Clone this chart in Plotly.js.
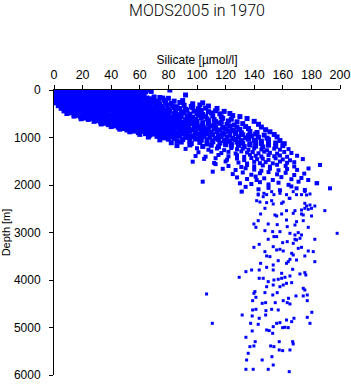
<!DOCTYPE html>
<html>
<head>
<meta charset="utf-8">
<script src="https://cdn.plot.ly/plotly-3.0.1.min.js"></script>
<style>html,body{margin:0;padding:0;background:#fff;}#chart{width:351px;height:384px;}</style>
</head>
<body>
<div id="chart"></div>
<script>
const surfaceObs = [
[0.5,5],[2,0],[4.5,10],[6,3],[8.5,12],[10,0],[12,7],[14.5,2],[16,14],[18,5],[20.5,0],[22,9],[24,4],[26.5,13],[28,0],[30,6],[32.5,11],[34,2],[36,8],[38,0],[40.5,5],[42,12],[44,3],[47,8],[50,0],[53,6],[58,2],[62,10],[81,0],[66,4],
[0,45],[2.5,30],[5,60],[7,40],[9,70],[11.5,35],[13,55],[15.5,42],[18,65],[20,30],[22.5,50],[24,68],[26,38],[28.5,58],[31,45],[33,32],[35.5,62],[37,48],[39.5,36],[42,66],[44,44],[46.5,55],[49,34],[52,60],[55,42],[60,52],[64,38],[68,30],
[0,110],[2,95],[4.5,125],[7,100],[9.5,118],[11,92],[13.5,130],[16,105],[18,88],[20.5,122],[23,98],[25,115],[27.5,90],[30,128],[32,104],[34.5,120],[37,94],[39,112],[41.5,126],[44,100],[46,90],[48.5,118],[51,106],[53,124],[56,96],[59,115],[63,102],[70,147],[92,105],[76,170],[57,85],
[0.5,160],[3,175],[5,150],[7.5,185],[10,165],[12,155],[14.5,190],[17,170],[19,148],[21.5,180],[24,162],[26,192],[28.5,152],[31,172],[33,186],[35.5,158],[38,176],[40,150],[42.5,188],[45,166],[47,180],[49.5,155],[52,172],[55,190],[57,160],[60,178],[62,150],[65,168],[68,185],[74,158],[80,175],
[1,220],[3.5,235],[6,210],[8,245],[10.5,225],[13,205],[15,240],[17.5,215],[20,232],[22,208],[24.5,244],[27,222],[29,236],[31.5,212],[34,228],[36,246],[38.5,218],[41,204],[43,238],[45.5,226],[48,214],[50,242],[52.5,230],[55,208],[57.5,236],[60,220],[62,246],[64.5,212],[67,232],[70,224],[73,240],[77,215],[84,235],[90,222],
[1.5,270],[4,290],[6.5,260],[9,280],[11,298],[13.5,265],[16,285],[18,256],[20.5,292],[23,274],[25,262],[27.5,296],[30,278],[32,258],[34.5,288],[37,268],[39,300],[41.5,276],[44,260],[46,290],[48.5,272],[51,256],[53,294],[55.5,280],[58,264],[60,298],[62.5,270],[65,286],[68,258],[71,278],[74,296],[78,266],[82,284],[88,262],[97,290],[104,270]
];
const thermoclineObs = [
[3,330],[5.5,315],[8,345],[10,322],[12.5,352],[15,312],[17,338],[19.5,326],[22,350],[24,318],[26.5,340],[29,310],[31,332],[33.5,355],[36,320],[38,344],[40.5,314],[43,336],[45,352],[47.5,324],[50,310],[52,346],[54.5,330],[57,316],[59,350],[61.5,338],[64,312],[66.5,328],[69,354],[72,320],[75,342],[79,316],[83,336],[86,352],[91,322],[96,344],[102,314],[108,338],
[5,385],[7,370],[9.5,400],[12,378],[14,408],[16.5,366],[19,392],[21,374],[23.5,404],[26,382],[28,368],[30.5,396],[33,410],[35,376],[37.5,390],[40,366],[42,402],[44.5,384],[47,372],[49,406],[51.5,388],[54,368],[56,398],[58.5,380],[61,410],[63,374],[65.5,394],[68,370],[71,386],[73,408],[76,376],[80,398],[84,368],[88,390],[92,404],[97,372],[101,394],[106,380],[114,388],
[7,440],[9.5,425],[12,455],[14,432],[16.5,462],[19,420],[21,446],[23.5,436],[26,458],[28,424],[30.5,448],[33,430],[35,464],[37.5,438],[40,422],[42,452],[44.5,442],[47,426],[49,460],[51.5,434],[54,450],[56,422],[58.5,444],[61,462],[63,430],[66,452],[69,424],[72,440],[75,458],[78,428],[81,448],[85,436],[89,460],[93,426],[98,446],[103,432],[108,456],[113,438],[119,450],
[9,495],[11.5,480],[14,510],[16,488],[18.5,518],[21,476],[23,500],[25.5,490],[28,514],[30,482],[32.5,506],[35,478],[37,498],[39.5,520],[42,486],[44,504],[46.5,476],[49,494],[51,516],[53.5,484],[56,508],[58,478],[60.5,498],[63,518],[66,488],[69,506],[72,476],[74,496],[77,514],[80,484],[84,500],[88,520],[91,480],[95,508],[100,490],[104,516],[110,482],[116,502],[123,494],
[14,550],[16,535],[18.5,565],[21,542],[23,572],[25.5,530],[28,556],[30,546],[32.5,568],[35,534],[37,560],[39.5,540],[42,574],[44,552],[46.5,532],[49,562],[51,544],[53.5,570],[56,536],[58,558],[60.5,548],[63,530],[65,566],[68,540],[71,556],[74,574],[76,534],[79,552],[82,566],[86,538],[89,560],[93,546],[97,572],[101,532],[106,556],[111,544],[117,566],[125,538],[130,560],
[19,605],[21.5,590],[24,620],[26,598],[28.5,628],[31,586],[33,612],[35.5,602],[38,624],[40,592],[42.5,616],[45,588],[47,608],[49.5,630],[52,596],[54,618],[56.5,586],[59,606],[61,626],[64,594],[67,614],[70,600],[73,628],[76,588],[79,610],[82,622],[85,592],[88,606],[92,630],[95,596],[99,616],[103,588],[107,608],[112,624],[118,596],[124,614],[135,600],
[28,660],[30,645],[32.5,675],[35,652],[37,682],[39.5,640],[42,666],[44,656],[46.5,688],[49,646],[51,672],[53.5,660],[56,684],[58,642],[60.5,668],[63,650],[66,680],[69,644],[71,664],[74,686],[77,652],[80,672],[83,642],[86,660],[89,684],[93,648],[96,670],[100,656],[104,688],[108,644],[113,666],[117,680],[122,652],[128,670],[140,660]
];
const intermediateObs = [
[33,715],[35.5,700],[38,730],[40,708],[42.5,740],[45,696],[47,722],[49.5,712],[52,736],[54,700],[56.5,726],[59,744],[61,710],[64,732],[67,698],[70,718],[72,742],[75,704],[78,728],[81,714],[84,740],[87,700],[90,722],[93,734],[97,706],[100,726],[104,744],[108,712],[112,730],[116,700],[121,720],[126,738],[132,708],[143,722],
[40,770],[42.5,755],[45,786],[47,762],[49.5,796],[52,750],[54,778],[56.5,768],[59,792],[62,756],[65,782],[67,770],[70,798],[73,758],[76,780],[79,764],[82,794],[85,752],[88,776],[91,790],[94,760],[98,784],[101,770],[105,798],[109,756],[113,778],[118,790],[123,762],[128,784],[134,770],[145,780],
[46,825],[49,810],[51,842],[54,818],[56,850],[59,806],[62,832],[64,822],[67,848],[70,812],[73,836],[76,854],[79,816],[82,840],[85,808],[88,830],[91,852],[94,820],[97,838],[101,808],[104,846],[108,826],[112,814],[116,840],[120,822],[125,852],[130,830],[136,812],[148,836],
[53,880],[56,866],[59,898],[62,874],[65,906],[68,862],[71,888],[74,878],[77,902],[80,868],[83,892],[86,910],[89,872],[92,896],[95,864],[99,884],[103,904],[106,870],[110,890],[114,876],[118,908],[122,866],[127,886],[131,900],[137,872],[142,894],[151,880],
[60,935],[64,920],[67,952],[70,928],[74,962],[77,916],[80,944],[83,932],[86,958],[90,922],[93,946],[96,964],[100,926],[103,950],[107,918],[111,940],[115,960],[119,930],[123,948],[127,918],[132,942],[136,962],[141,928],[147,950],[154,936],
[66,990],[72,976],[77,1008],[81,984],[84,1018],[88,972],[92,998],[95,1012],[98,980],[102,1004],[105,974],[109,994],[113,1016],[117,978],[121,1000],[125,1020],[129,984],[134,1006],[138,972],[143,996],[149,1014],[156,988],
[74,1050],[80,1036],[86,1068],[90,1044],[95,1076],[99,1032],[103,1058],[107,1046],[111,1072],[115,1038],[119,1062],[123,1080],[127,1042],[131,1066],[136,1034],[140,1056],[145,1078],[150,1046],[158,1064],
[82,1110],[89,1096],[96,1128],[102,1104],[107,1136],[111,1092],[116,1118],[120,1106],[124,1140],[128,1098],[132,1122],[137,1134],[141,1102],[145,1126],[150,1094],[155,1116],[161,1130],
[86,1170],[95,1156],[104,1188],[110,1164],[115,1196],[120,1152],[124,1178],[129,1166],[133,1192],[137,1158],[141,1182],[146,1198],[150,1162],[155,1186],[160,1172]
];
const transitionObs = [
[92,1240],[100,1226],[108,1258],[114,1232],[119,1266],[124,1222],[128,1248],[132,1236],[136,1262],[140,1228],[145,1252],[149,1270],[154,1234],[158,1256],[164,1244],
[101,1310],[110,1296],[117,1328],[122,1302],[127,1336],[131,1292],[135,1318],[139,1306],[143,1332],[147,1298],[151,1322],[156,1340],[161,1304],[166,1326],
[99,1390],[106,1404],[115,1368],[122,1396],[128,1374],[133,1408],[137,1362],[141,1386],[145,1400],[150,1370],[154,1394],[158,1378],[163,1406],[170,1384],
[105,1450],[113,1436],[121,1468],[128,1442],[133,1476],[138,1432],[142,1458],[146,1446],[150,1472],[155,1438],[160,1462],[165,1480],[174,1454],
[97,1509],[112,1536],[120,1504],[129,1528],[135,1548],[140,1512],[144,1540],[148,1518],[153,1544],[158,1506],[163,1532],[168,1520],
[113,1560],[122,1600],[131,1620],[135,1580],[140,1606],[146,1588],[151,1614],[156,1574],[162,1598],[168,1610],[186,1579],
[118,1660],[127,1684],[134,1648],[140,1676],[145,1700],[151,1656],[157,1690],[163,1664],[170,1682],[178,1652],
[111,1719],[125,1770],[132,1736],[138,1784],[144,1752],[150,1728],[156,1776],[162,1744],[168,1790],[175,1760],
[128,1840],[135,1874],[141,1822],[147,1860],[153,1895],[159,1834],[166,1878],[173,1852],[177.8,1895],[141.7,1895],
[104,1930],[130,1964],[138,1979],[144,1940],[150,1988],[157,1952],[164,1996],[171,1930],[183.6,1964],
[134,2040],[143,2090],[150,2060],[158,2110],[166,2030],[169.6,2070],[175.4,2105],[193,2070],[131.2,2140],[184,1960]
];
const deepObs = [
[131.6,2133],[142.8,2189],[146.8,2175],[148.7,2203],[152.2,2140],[153.8,2203],[158,2175],[162.6,2203],[167.3,2140],[169.6,2203],[173.1,2203],[175.4,2140],[179,2189],[164.5,2280],[141.7,2330],[144,2358],[148.7,2372],[152.2,2330],[153.3,2400],[159.2,2386],[160.3,2358],[175.4,2386],[176.6,2442],[179,2421],[182.4,2442],[147.5,2491],[162.6,2540],[168.5,2540],[173.1,2526],[189.4,2540],[175.4,2491],[177.8,2512],[180.1,2491],
[142.8,2210],[146.3,2246],[165,2280],[176.6,2210],
[144.5,2610],[154.5,2631],[155.7,2652],[159.2,2610],[167.3,2596],[173.1,2610],[174.3,2631],[180.1,2652],[142.8,2751],[162.6,2737],[169.6,2772],[174.3,2751],[139.8,2821],[141.2,2891],[149.8,2821],[156.1,2835],[163.1,2877],[168.5,2842],[177.8,2891],
[152.9,2982],[147.5,2961],[158,2982],[165,3017],[168.5,3052],[170.8,3003],[173.1,3052],[198,3017],[149.8,3143],[153.8,3087],[155.7,3087],[159.9,3214],[163.1,3193],[168.5,3143],[169.6,3157],[172,3122],[182.4,3143],
[143.5,3249],[139.8,3312],[153.3,3298],[167.3,3228],[170.8,3333],[173.1,3312],[147.5,3403],[155.7,3368],[158,3354],[160.3,3389],[177.8,3389],[181.3,3403],[148.7,3494],[151,3508],[166.2,3438],[167.3,3473],[175.4,3494],
[156.8,3593],[163.8,3614],[165,3565],[169.6,3579],[182.4,3614],[144.5,3649],[153.3,3684],[162.6,3649],[153.3,3789],[143.5,3789],[148.7,3733],[138.2,3789],[134.2,3824],[129.5,3943],[159.2,3859],[166.9,3775],[172,3873],[175.4,3845],[176.1,3894],
[143.5,3964],[146.3,3964],[149.8,4035],[153.8,4000],[156.8,3985],[159.2,3964],[161.5,3943],[165,3915],[148.7,4141],[153.3,4105],[158,4141],[160.3,4105],[162.6,4070],[166.2,4056],[174.3,4175]
];
const abyssalObs = [
[106.7,4294],[110.7,4912],[131.6,4737],[134.2,5206],[134.7,5684],[134.2,5880],[135.8,5543],[137,5403],[137.5,4912],[138.6,5073],[138.6,4757],[138.9,4435],[138.9,4631],[139.8,4280],[140.5,4245],[141.2,4364],[139.3,5880],[139.8,5389],[140.7,5298],[141.2,4617],[142.8,4933],[143.5,4806],[145.6,5684],[145.6,4491],[147.5,4266],[148,4477],[148.2,4645],[148,4737],[148.7,5052],[149.8,5880],[150.5,5066],[151.5,5389],[152.2,4617],[152.4,5614],[153,4315],[153.3,4982],[153.3,5789],[152.9,5122],[153.8,5403],[154.7,4477],[155.7,4912],[156.1,4266],[156.8,4631],[157.5,5298],[157.5,5473],[158,4898],[159.9,5487],[159.9,5003],[160.3,4435],[161.5,4996],[162.6,4842],[163.1,4477],[163.8,5003],[164,4385],[164.5,5930],[165,4505],[165,5473],[166.2,4877],[166.9,5298],[167.3,5347],[167.8,4806],[169.2,4336],[174.3,4336],[175.4,4210],[177.1,4315],[177.1,4435],[177.1,4786],[179,4912],[180.3,4680]
];
const xTickVals = [0,20,40,60,80,100,120,140,160,180,200];
const yTickVals = [0,1000,2000,3000,4000,5000,6000];
const chartTitle = 'MODS2005 in 1970';
const xTitle = 'Silicate [µmol/l]';
const yTitle = 'Depth [m]';

const FONT = '"Liberation Sans", Arial, Helvetica, sans-serif';
const TITLE_FONT = 'Roboto, "Liberation Sans", Arial, sans-serif';

// the densely sampled upper layers overlap into a solid mass in the reference
const bands = [
  {obs: surfaceObs, size: 5},
  {obs: thermoclineObs, size: 5},
  {obs: intermediateObs, size: 5},
  {obs: transitionObs, size: 4},
  {obs: deepObs, size: 3},
  {obs: abyssalObs, size: 3}
];
const traces = bands.map(b => ({
  type: 'scatter', mode: 'markers',
  x: b.obs.map(p => p[0]), y: b.obs.map(p => p[1]),
  marker: {symbol: 'square', size: b.size, color: '#0000ff', line: {width: 0}},
  hoverinfo: 'none'
}));

const layout = {
  width: 351, height: 384,
  margin: {l: 54, r: 11, t: 90, b: 9, pad: 0},
  paper_bgcolor: '#fff', plot_bgcolor: '#fff',
  showlegend: false,
  font: {family: FONT, color: '#000'},
  title: {text: chartTitle, font: {family: TITLE_FONT, size: 16, color: '#000', weight: 300},
          x: 0.5, xref: 'paper', xanchor: 'center', y: 0.974, yref: 'container', yanchor: 'middle'},
  xaxis: {
    side: 'top', range: [0, 200], tickvals: xTickVals, ticktext: xTickVals.map(String),
    showline: true, linecolor: '#000', linewidth: 1, mirror: false,
    ticks: 'outside', ticklen: 4, tickwidth: 1, tickcolor: '#000',
    tickfont: {family: FONT, size: 12.5, color: '#000'}, ticklabelstandoff: 1,
    showgrid: false, zeroline: false,
    title: {text: xTitle, font: {family: FONT, size: 12, color: '#000'}, standoff: 0}
  },
  yaxis: {
    range: [6000, 0], tickvals: yTickVals, ticktext: yTickVals.map(String),
    showline: true, linecolor: '#000', linewidth: 1, mirror: false,
    ticks: 'outside', ticklen: 4, tickwidth: 1, tickcolor: '#000',
    tickfont: {family: FONT, size: 12, color: '#000'}, ticklabelstandoff: 6,
    showgrid: false, zeroline: false,
    title: {text: yTitle, font: {family: FONT, size: 11, color: '#000'}, standoff: 2}
  }
};

Plotly.newPlot('chart', traces, layout, {displayModeBar: false, staticPlot: true});
</script>
</body>
</html>
